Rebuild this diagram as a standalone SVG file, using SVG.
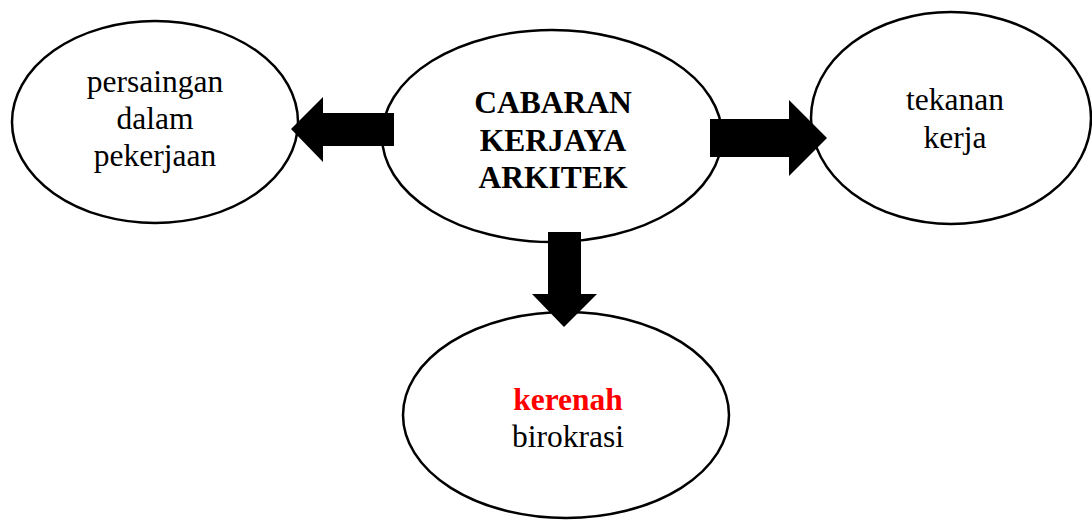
<svg xmlns="http://www.w3.org/2000/svg" width="1092" height="520" viewBox="0 0 1092 520">
<style>
.node ellipse{fill:#fff;stroke:#000;stroke-width:2.5}
text{font-family:"Liberation Serif","Times New Roman",serif;font-size:31.5px;fill:#000;text-anchor:middle}
.b{font-weight:bold}
.red{fill:#ff0000}
.arrow{fill:#000;stroke:none}
</style>
<rect width="1092" height="520" fill="#fff"/>
<g id="node-left" class="node">
<ellipse cx="155" cy="122" rx="143" ry="101"/>
<text x="155" y="92">persaingan</text>
<text x="155" y="129">dalam</text>
<text x="155" y="166">pekerjaan</text>
</g>
<g id="node-right" class="node">
<ellipse cx="951" cy="118" rx="140" ry="106"/>
<text x="955" y="110">tekanan</text>
<text x="955" y="148">kerja</text>
</g>
<g id="node-bottom" class="node">
<ellipse cx="566" cy="415" rx="163" ry="103"/>
<text x="568" y="410" class="b red">kerenah</text>
<text x="568" y="447">birokrasi</text>
</g>
<g id="node-center" class="node">
<ellipse cx="552" cy="136" rx="170" ry="106"/>
<text x="553" y="113" class="b">CABARAN</text>
<text x="553" y="151" class="b">KERJAYA</text>
<text x="553" y="188" class="b">ARKITEK</text>
</g>
<g id="connectors">
<polygon class="arrow" points="394,113 323,113 323,97 291,129 323,162 323,146 394,146"/>
<polygon class="arrow" points="710,119 789,119 789,100 827,138 789,176 789,157 710,157"/>
<polygon class="arrow" points="548,232 581,232 581,294 597,294 564,327 532,294 548,294"/>
</g>
</svg>
